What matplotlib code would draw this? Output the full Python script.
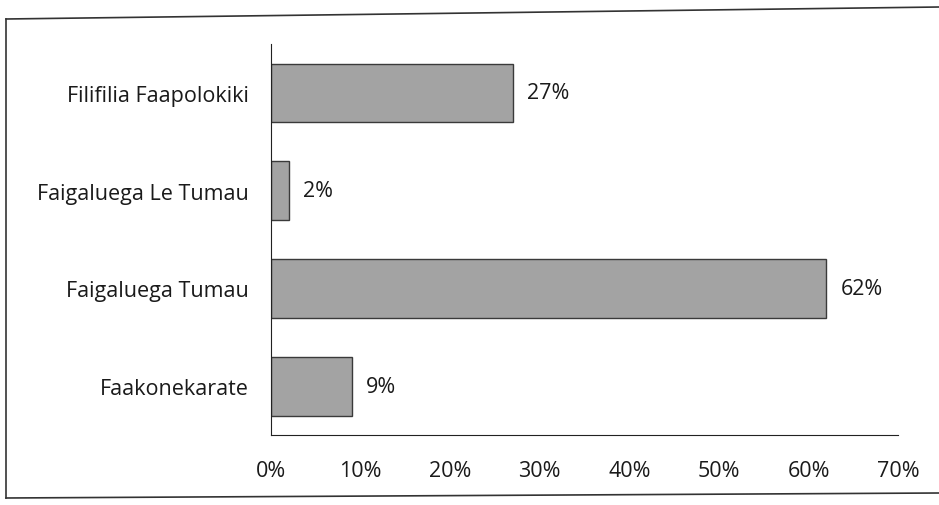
import matplotlib
matplotlib.use('Agg')
import matplotlib.pyplot as plt
from matplotlib.lines import Line2D

categories = ['Faakonekarate', 'Faigaluega Tumau', 'Faigaluega Le Tumau', 'Filifilia Faapolokiki']
values = [9, 62, 2, 27]
ticks = [0, 10, 20, 30, 40, 50, 60, 70]

plt.rcParams['font.family'] = ['Open Sans', 'DejaVu Sans']
fs = 15.5

fig = plt.figure(figsize=(9.39, 5.06), dpi=100)
ax = fig.add_axes([0.2885, 0.138, 0.668, 0.773])

ax.barh(categories, values, height=0.6, color='#a3a3a3', edgecolor='#3a3a3a', linewidth=1)
for i, v in enumerate(values):
    ax.text(v + 1.6, i, f'{v}%', va='center', ha='left', fontsize=fs, color='#1a1a1a')

ax.set_xlim(0, 70)
ax.set_ylim(-0.5, 3.5)
ax.set_xticks(ticks)
ax.set_xticklabels([f'{t}%' for t in ticks], fontsize=fs, color='#1a1a1a')
ax.tick_params(axis='x', length=0, pad=18)
ax.tick_params(axis='y', length=0, pad=16, labelsize=fs, labelcolor='#1a1a1a')
for s in ['top', 'right']:
    ax.spines[s].set_visible(False)
ax.spines['left'].set_color('#222222')
ax.spines['bottom'].set_color('#222222')

# scanned frame around the chart (right edge cut off)
x0, x1 = 6 / 939, 1.0
y_top, y_bot = 1 - 20 / 506, 1 - 499 / 506
for xs, ys in [([x0, x1], [y_top, 1 - 8 / 506]), ([x0, x0], [y_top, y_bot]), ([x0, x1], [y_bot, 1 - 494 / 506])]:
    fig.add_artist(Line2D(xs, ys, transform=fig.transFigure, color='#333333', linewidth=1.2))

fig.savefig('out.png', dpi=100, facecolor='white')
